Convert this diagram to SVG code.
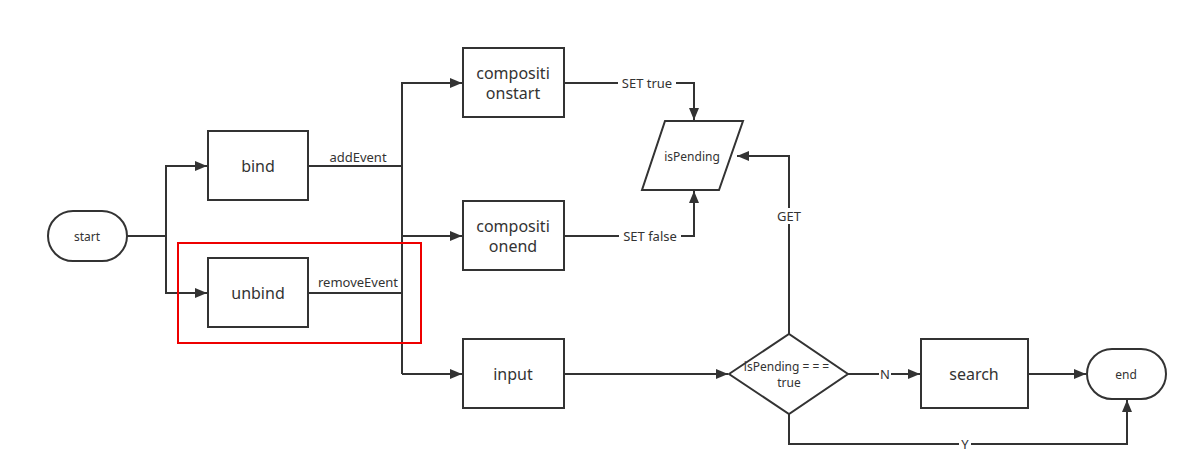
<svg xmlns="http://www.w3.org/2000/svg" width="1198" height="475" viewBox="0 0 1198 475">
<style>
.n{fill:#fff;stroke:#333;stroke-width:2}
.e{fill:none;stroke:#333;stroke-width:2}
.t{font-family:"Noto Sans","DejaVu Sans",sans-serif;fill:#333;text-anchor:middle;dominant-baseline:central}
.big{font-size:16px}
.sm{font-size:12px}
.lb{font-size:13px}
</style>
<defs>
<marker id="a" viewBox="0 0 12 10" refX="12" refY="5" markerWidth="12" markerHeight="10" markerUnits="userSpaceOnUse" orient="auto">
<path d="M0,0 L12,5 L0,10 Z" fill="#333"/>
</marker>
</defs>
<rect width="1198" height="475" fill="#fff"/>
<g id="connectors">
<path class="e" d="M127,236 H166 V166 H207" marker-end="url(#a)"/>
<path class="e" d="M166,236 V293 H207" marker-end="url(#a)"/>
<path class="e" d="M308,166 H402"/>
<path class="e" d="M308,293 H402"/>
<path class="e" d="M402,374 V83 H462" marker-end="url(#a)"/>
<path class="e" d="M402,236 H462" marker-end="url(#a)"/>
<path class="e" d="M402,374 H462" marker-end="url(#a)"/>
<path class="e" d="M564,83 H694 V120" marker-end="url(#a)"/>
<path class="e" d="M564,236 H694 V191" marker-end="url(#a)"/>
<path class="e" d="M564,374 H728" marker-end="url(#a)"/>
<path class="e" d="M789,334 V156 H737" marker-end="url(#a)"/>
<path class="e" d="M848,374 H920" marker-end="url(#a)"/>
<path class="e" d="M1028,374 H1086" marker-end="url(#a)"/>
<path class="e" d="M789,414 V444 H1127 V400" marker-end="url(#a)"/>
<text class="t lb" x="358" y="157">addEvent</text>
<text class="t lb" x="358" y="282">removeEvent</text>
<rect x="618" y="75" width="58" height="16" fill="#fff"/>
<text class="t lb" x="647" y="83">SET true</text>
<rect x="619" y="228" width="62" height="16" fill="#fff"/>
<text class="t lb" x="650" y="236">SET false</text>
<rect x="773" y="208" width="32" height="16" fill="#fff"/>
<text class="t lb" x="789" y="216">GET</text>
<rect x="879" y="366" width="12" height="16" fill="#fff"/>
<text class="t lb" x="885" y="374">N</text>
<rect x="959" y="436" width="12" height="16" fill="#fff"/>
<text class="t lb" x="965" y="444">Y</text>
</g>
<g id="group-red">
<rect x="178" y="243" width="243" height="100" fill="none" stroke="#e00" stroke-width="2"/>
</g>
<g id="start">
<rect class="n" x="48" y="211" width="79" height="50" rx="25"/>
<text class="t sm" x="87" y="236">start</text>
</g>
<g id="bind">
<rect class="n" x="208" y="131" width="100" height="69"/>
<text class="t big" x="258" y="166">bind</text>
</g>
<g id="unbind">
<rect class="n" x="208" y="258" width="100" height="69"/>
<text class="t big" x="258" y="293">unbind</text>
</g>
<g id="compositionstart">
<rect class="n" x="463" y="48" width="101" height="69"/>
<text class="t big" x="513" y="73">compositi</text>
<text class="t big" x="513" y="93">onstart</text>
</g>
<g id="compositionend">
<rect class="n" x="463" y="201" width="101" height="69"/>
<text class="t big" x="513" y="226">compositi</text>
<text class="t big" x="513" y="246">onend</text>
</g>
<g id="input">
<rect class="n" x="463" y="339" width="101" height="69"/>
<text class="t big" x="513" y="374">input</text>
</g>
<g id="isPending">
<path class="n" d="M665,121 H743 L719,190 H642 Z"/>
<text class="t sm" x="692" y="156">isPending</text>
</g>
<g id="decision">
<path class="n" d="M729,374 L789,334 L848,374 L789,414 Z"/>
<text class="t sm" x="788" y="366">isPending <tspan letter-spacing="3">===</tspan></text>
<text class="t sm" x="789" y="382">true</text>
</g>
<g id="search">
<rect class="n" x="921" y="339" width="107" height="69"/>
<text class="t big" x="974" y="374">search</text>
</g>
<g id="end">
<rect class="n" x="1087" y="349" width="79" height="50" rx="25"/>
<text class="t sm" x="1126" y="374">end</text>
</g>
</svg>
